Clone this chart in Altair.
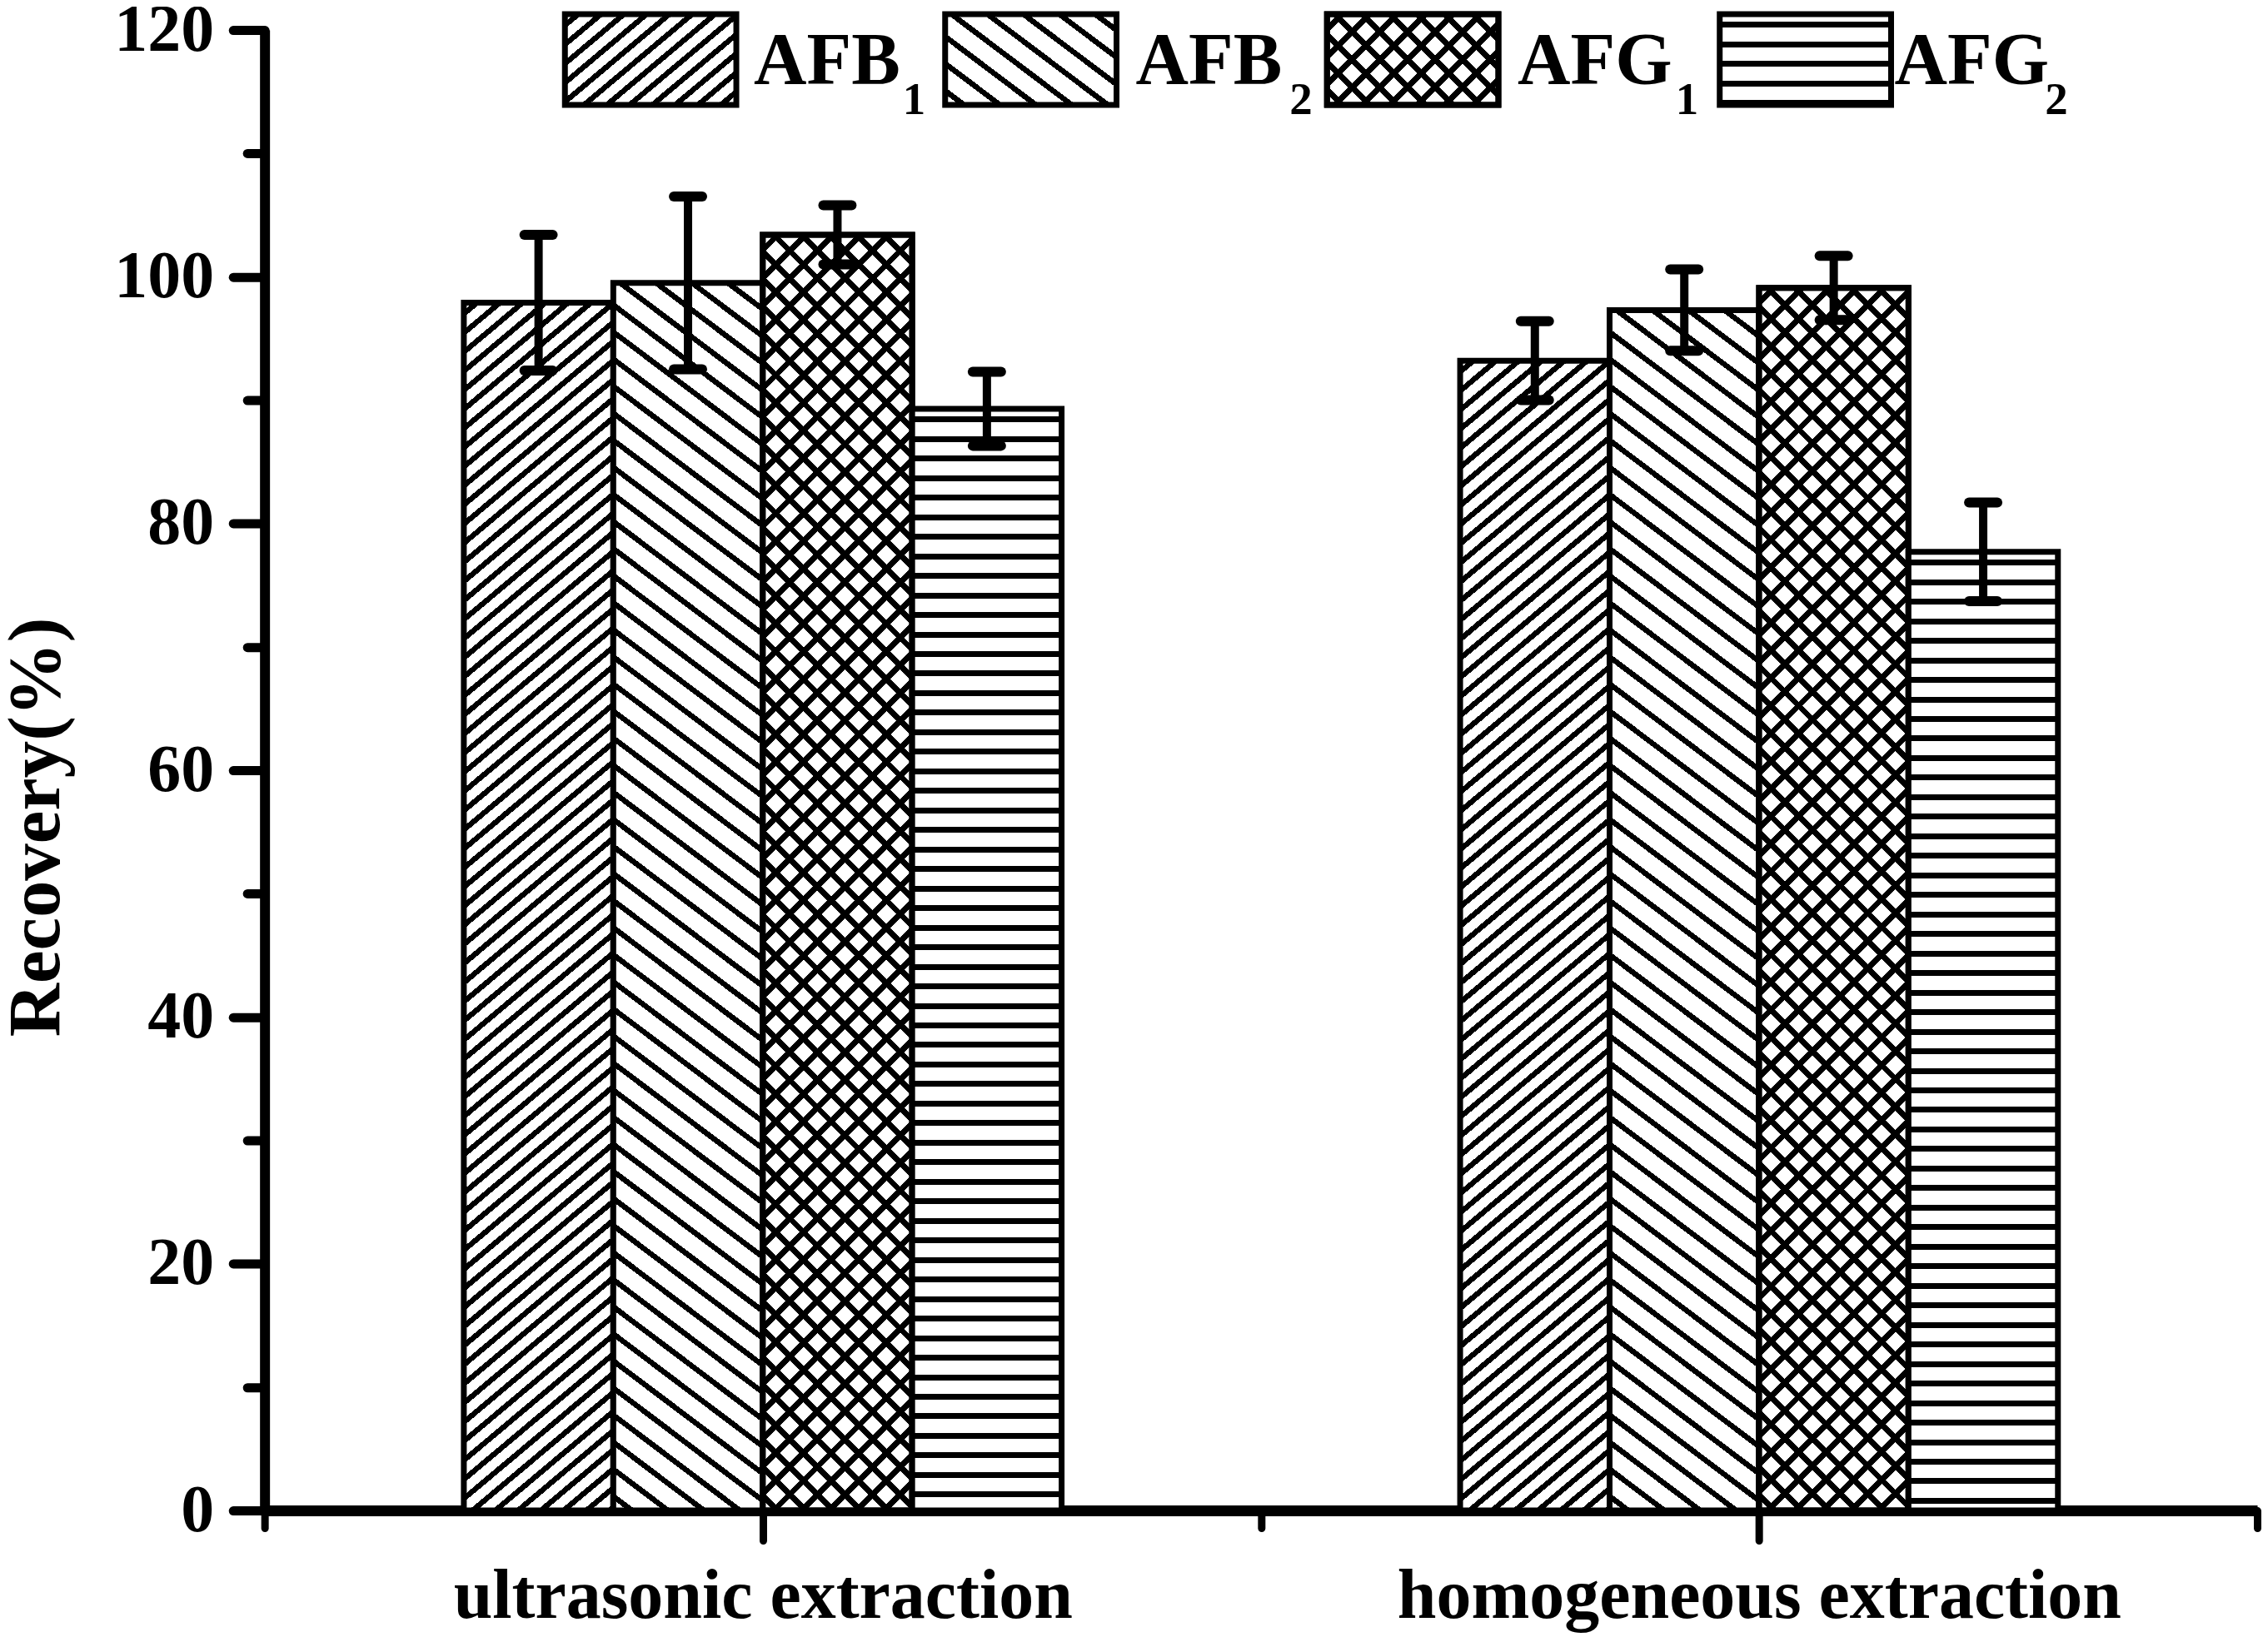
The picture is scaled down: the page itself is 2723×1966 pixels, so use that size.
import math
import pandas as pd
import altair as alt

# ---------------- data ----------------
methods = ["ultrasonic extraction", "homogeneous extraction"]
series_main = ["AFB", "AFB", "AFG", "AFG"]
series_sub = ["1", "2", "1", "2"]
recovery_ultrasonic = [97.9, 99.5, 103.4, 89.3]
recovery_homogeneous = [93.2, 97.3, 99.1, 77.7]
sd_ultrasonic = [5.5, 7.0, 2.4, 3.0]
sd_homogeneous = [3.2, 3.3, 2.6, 4.0]
y_ticks = list(range(0, 121, 10))

# ---------------- layout ----------------
W, H = 2395, 1780
X_DOMAIN = [0.5, 2.5]
Y_DOMAIN = [0, 120]
PX = W / (X_DOMAIN[1] - X_DOMAIN[0])
PY = H / (Y_DOMAIN[1] - Y_DOMAIN[0])
BAR_W = 0.15
group_pos = [1, 2]
bar_offsets = [-1.5 * BAR_W, -0.5 * BAR_W, 0.5 * BAR_W, 1.5 * BAR_W]
CAP_HALF = 17 / PX
FONT = "Liberation Serif"

# hatch styles per series: (line angle deg, period px, line width px)
patterns = [
    [(40, 17.6, 6.5)],
    [(143, 26.0, 6.5)],
    [(45, 23.5, 7.0), (135, 23.5, 7.0)],
    [(0, 23.5, 7.0)],
]

# legend layout (pixels relative to plot area)
leg_box_x = [361, 818, 1277, 1749]
leg_box_w = 206
leg_box_y = (-19, 90)
leg_text_x = [588, 1047, 1506, 1959]
leg_sub_x = [767, 1232, 1696, 2140]
leg_text_y = 64
leg_sub_y = 101


def stripe_fill(w, h, angle, period, lw, bg, fg="black"):
    a = math.radians(angle)
    c, s = math.sin(a), math.cos(a)
    if abs(c) < 1e-9:
        c = 0.0
    if abs(s) < 1e-9:
        s = 0.0
    L = w * abs(c) + h * abs(s)
    k = L / (w * w * c * c + h * h * s * s)
    x1 = 1.0 if c < 0 else 0.0
    y1 = 1.0 if s < 0 else 0.0
    x2 = x1 + k * w * c
    y2 = y1 + k * h * s
    if abs(x2 - x1) < 1e-9:
        x2 = x1 + 1e-6
    if abs(y2 - y1) < 1e-9:
        y2 = y1 + 1e-6
    stops = [{"offset": 0, "color": bg}]
    pos = period * 0.4
    while pos < L:
        a0 = round(pos / L, 6)
        a1 = round(min((pos + lw) / L, 1.0), 6)
        stops += [
            {"offset": a0, "color": bg},
            {"offset": a0, "color": fg},
            {"offset": a1, "color": fg},
            {"offset": a1, "color": bg},
        ]
        pos += period
    stops.append({"offset": 1, "color": bg})
    return {"gradient": "linear", "x1": x1, "y1": y1, "x2": x2, "y2": y2, "stops": stops}


rows = []
for gi, (m, vals, sds) in enumerate(
    [(methods[0], recovery_ultrasonic, sd_ultrasonic), (methods[1], recovery_homogeneous, sd_homogeneous)]
):
    for si in range(4):
        xc = group_pos[gi] + bar_offsets[si]
        rows.append({
            "method": m, "series": series_main[si] + series_sub[si], "si": si,
            "value": vals[si], "sd": sds[si],
            "xc": xc, "xl": xc - BAR_W / 2, "xr": xc + BAR_W / 2,
            "lo": vals[si] - sds[si], "hi": vals[si] + sds[si],
            "cl": xc - CAP_HALF, "cr": xc + CAP_HALF, "base": 0,
        })
df = pd.DataFrame(rows)

xscale = alt.Scale(domain=X_DOMAIN, nice=False, zero=False)
yscale = alt.Scale(domain=Y_DOMAIN, nice=False, zero=False)

label_expr = " : ".join(
    [f"datum.value == {group_pos[i]} ? '{methods[i]}'" for i in range(len(methods))]
) + " : ''"

xaxis = alt.Axis(
    values=[0.5, 1, 1.5, 2, 2.5], labelExpr=label_expr, grid=False,
    tickSize={"condition": {"test": "datum.value % 1 === 0", "value": 36}, "value": 21},
    tickWidth=9, tickColor="black", tickCap="round",
    domainWidth=13, domainColor="black",
    labelFont=FONT, labelFontWeight="bold", labelFontSize=84, labelColor="black",
    labelPadding=27, labelOverlap=False, labelFlush=False, labelBound=False,
    labelLimit=2000,
    title=None,
)
yaxis = alt.Axis(
    values=y_ticks, labelExpr="datum.value % 20 === 0 ? datum.label : ''", grid=False,
    tickSize={"condition": {"test": "datum.value % 20 === 0", "value": 38}, "value": 21},
    tickWidth=11, tickColor="black", tickCap="round",
    domainWidth=12, domainColor="black",
    labelFont=FONT, labelFontWeight="bold", labelFontSize=80, labelColor="black",
    labelPadding=23, labelOverlap=False, labelFlush=False, labelBound=False,
    labelLimit=1000,
    title="Recovery(%)", titleFont=FONT, titleFontWeight="bold", titleFontSize=89,
    titleColor="black", titleAngle=270, titleX=-247, titleY=958,
    titleAlign="center", titleBaseline="alphabetic", titleLimit=2000,
)


def X(field):
    return alt.X(field, type="quantitative", scale=xscale, axis=xaxis, title=None)


def Y(field):
    return alt.Y(field, type="quantitative", scale=yscale, axis=yaxis, title="Recovery(%)")


layers = []
bar_w_px = BAR_W * PX
for i, r in df.iterrows():
    one = df.iloc[[i]]
    h_px = r["value"] * PY
    for pi, (ang, per, lw) in enumerate(patterns[int(r["si"])]):
        bg = "white" if pi == 0 else "rgba(255,255,255,0)"
        fill = stripe_fill(bar_w_px, h_px, ang, per, lw, bg)
        layers.append(
            alt.Chart(one).mark_bar(fill=fill, stroke="black", strokeWidth=7, strokeJoin="miter")
            .encode(x=X("xl"), x2="xr", y=Y("value"), y2="base")
        )

# error bars
layers.append(
    alt.Chart(df).mark_rule(color="black", strokeWidth=10)
    .encode(x=X("xc"), y=Y("lo"), y2="hi")
)
for end in ["hi", "lo"]:
    layers.append(
        alt.Chart(df).mark_rule(color="black", strokeWidth=12, strokeCap="round")
        .encode(x=X("cl"), x2="cr", y=Y(end))
    )

# legend
leg_h = leg_box_y[1] - leg_box_y[0]
for si in range(4):
    one = pd.DataFrame({"main": [series_main[si]], "sub": [series_sub[si]]})
    for pi, (ang, per, lw) in enumerate(patterns[si]):
        bg = "white" if pi == 0 else "rgba(255,255,255,0)"
        fill = stripe_fill(leg_box_w, leg_h, ang, per, lw, bg)
        layers.append(
            alt.Chart(one).mark_rect(fill=fill, stroke="black", strokeWidth=7)
            .encode(
                x=alt.value(leg_box_x[si]), x2=alt.value(leg_box_x[si] + leg_box_w),
                y=alt.value(leg_box_y[0]), y2=alt.value(leg_box_y[1]),
            )
        )
    layers.append(
        alt.Chart(one).mark_text(font=FONT, fontWeight="bold", fontSize=88, align="left",
                                 baseline="alphabetic", color="black")
        .encode(x=alt.value(leg_text_x[si]), y=alt.value(leg_text_y), text="main:N")
    )
    layers.append(
        alt.Chart(one).mark_text(font=FONT, fontWeight="bold", fontSize=55, align="left",
                                 baseline="alphabetic", color="black")
        .encode(x=alt.value(leg_sub_x[si]), y=alt.value(leg_sub_y), text="sub:N")
    )

chart = (
    alt.layer(*layers)
    .properties(
        width=W, height=H,
        padding={"left": 310, "top": 27, "right": 5, "bottom": 149},
        autosize=alt.AutoSizeParams(type="none"),
        background="white",
    )
    .configure_view(stroke=None)
)

chart.save("out.html", embed_options={"renderer": "svg", "actions": False})
